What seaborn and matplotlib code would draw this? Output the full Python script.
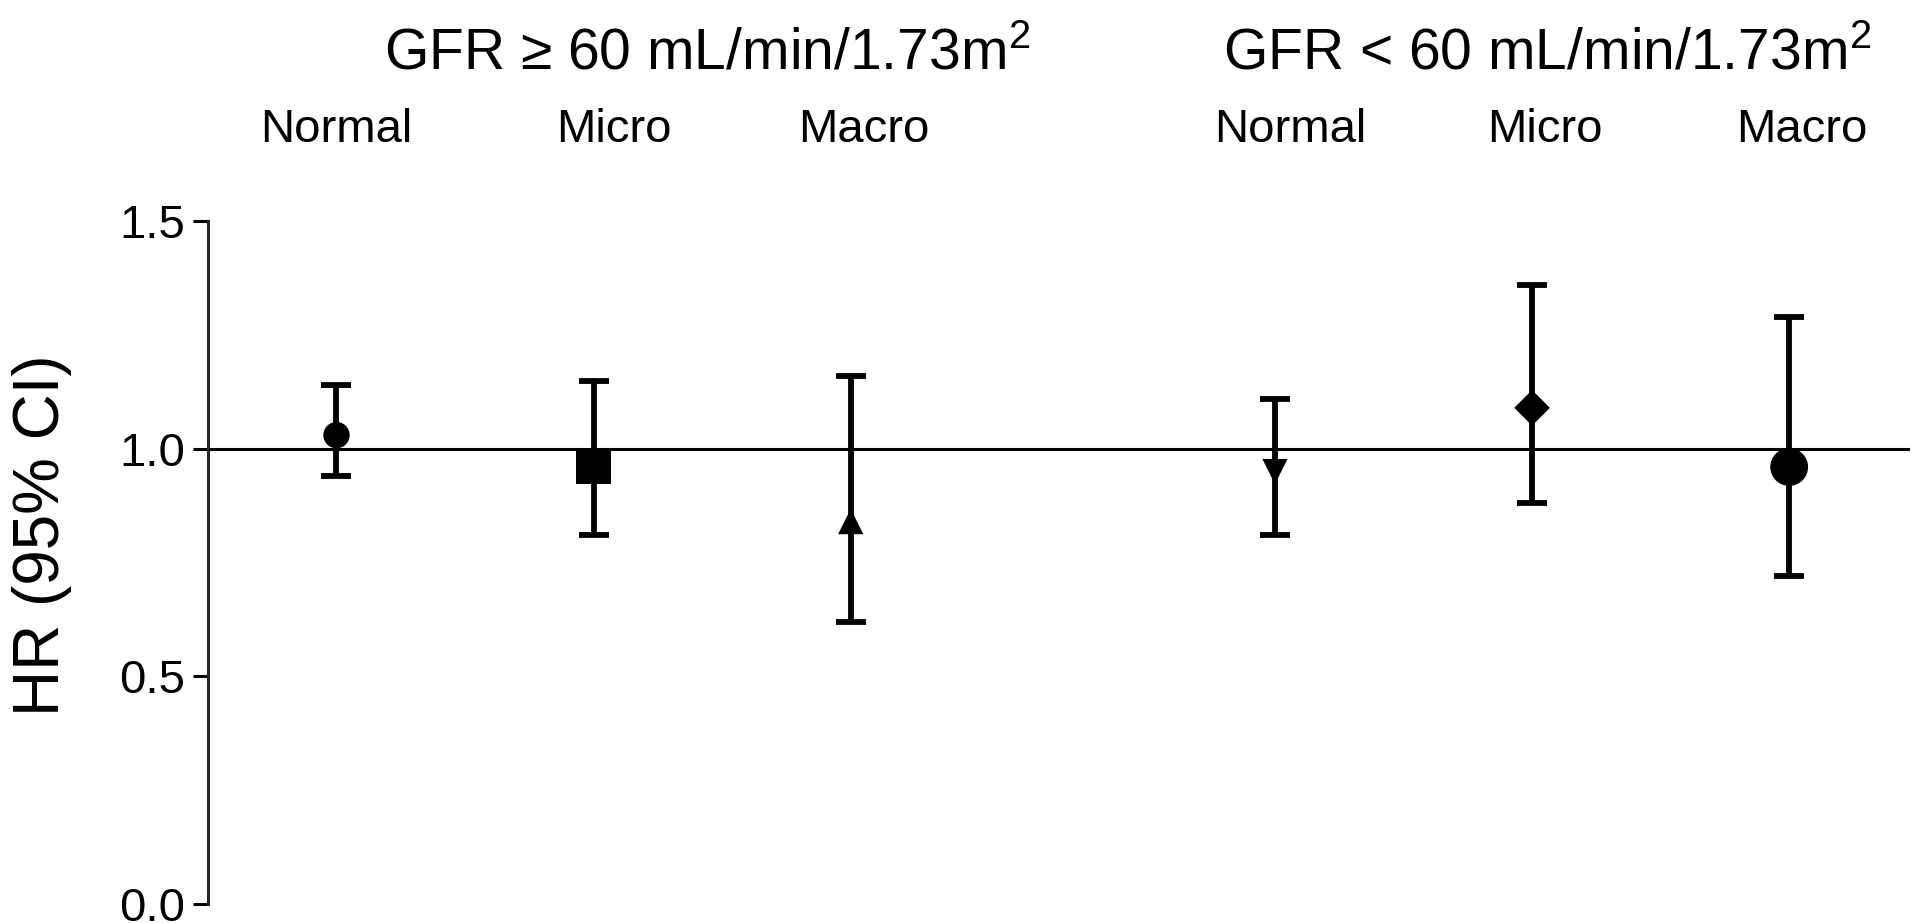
import numpy as np
import pandas as pd
import matplotlib
matplotlib.use("Agg")
import matplotlib.pyplot as plt
import seaborn as sns

# Hazard ratios with 95% confidence intervals by albuminuria within GFR strata
groups = ["Normal", "Micro", "Macro", "Normal", "Micro", "Macro"]
strata = ["GFR \u2265 60"] * 3 + ["GFR < 60"] * 3
hr = [1.03, 0.96, 0.84, 0.95, 1.09, 0.96]
ci_low = [0.94, 0.81, 0.62, 0.81, 0.88, 0.72]
ci_high = [1.14, 1.15, 1.16, 1.11, 1.36, 1.29]
y_ticks = [0.0, 0.5, 1.0, 1.5]
strata_titles = ["GFR \u2265 60 mL/min/1.73m$^{2}$", "GFR < 60 mL/min/1.73m$^{2}$"]

# Layout: horizontal slots for each estimate, with a gap between the strata
slots = [0.5, 1.5, 2.5, 4.15, 5.15, 6.15]
label_slots = [0.50, 1.58, 2.55, 4.21, 5.20, 6.20]
title_slots = [1.94, 5.21]
marker_shapes = ["o", "s", "^", "v", "D", "o"]
marker_areas = [360, 620, 330, 330, 330, 740]

sns.set_theme(style="ticks")
plt.rcParams["font.family"] = ["Liberation Sans", "DejaVu Sans"]
plt.rcParams["mathtext.fontset"] = "custom"
plt.rcParams["mathtext.rm"] = "Liberation Sans"
plt.rcParams["mathtext.it"] = "Liberation Sans"
plt.rcParams["mathtext.default"] = "regular"
plt.rcParams["text.color"] = "black"
plt.rcParams["axes.labelcolor"] = "black"

df = pd.DataFrame({
    "slot": slots,
    "hr": hr,
    "lo": ci_low,
    "hi": ci_high,
    "key": [f"{s} {g}" for s, g in zip(strata, groups)],
})

fig = plt.figure(figsize=(19.2, 9.23), dpi=100)
ax = fig.add_axes([0.1083, 0.0209, 0.8865, 0.7393])

# Reference line at HR = 1
ax.axhline(1.0, color="black", lw=2.2, zorder=1)

# Confidence intervals
ax.errorbar(
    df["slot"], df["hr"],
    yerr=[df["hr"] - df["lo"], df["hi"] - df["hr"]],
    fmt="none", ecolor="black", elinewidth=4.2,
    capsize=11, capthick=4.2, zorder=2,
)

# Point estimates
sns.scatterplot(
    data=df, x="slot", y="hr",
    style="key", markers=dict(zip(df["key"], marker_shapes)),
    size="key", sizes=dict(zip(df["key"], marker_areas)),
    color="black", edgecolor="black", linewidth=0,
    legend=False, ax=ax, zorder=3,
)

ax.set_xlim(0, 6.62)
ax.set_ylim(0, 1.5)
ax.set_yticks(y_ticks)
ax.set_yticklabels([f"{t:.1f}" for t in y_ticks])
ax.set_xticks([])
ax.set_xlabel("")
ax.set_ylabel("HR (95% CI)", fontsize=46)
ax.yaxis.set_label_coords(-0.080, 0.54)

for side in ["top", "right", "bottom"]:
    ax.spines[side].set_visible(False)
ax.spines["left"].set_linewidth(2.2)
ax.spines["left"].set_bounds(0, 1.5)
ax.tick_params(axis="y", length=10.5, width=2.2, labelsize=34, pad=6, colors="black")

# Group labels above each estimate
for x, g in zip(label_slots, groups):
    ax.text(x, 1.675, g, ha="center", va="baseline", fontsize=34, clip_on=False)

# Stratum titles
for x, t in zip(title_slots, strata_titles):
    ax.text(x, 1.834, t, ha="center", va="baseline", fontsize=41, clip_on=False)

fig.savefig("out.png", dpi=100, facecolor="white")
